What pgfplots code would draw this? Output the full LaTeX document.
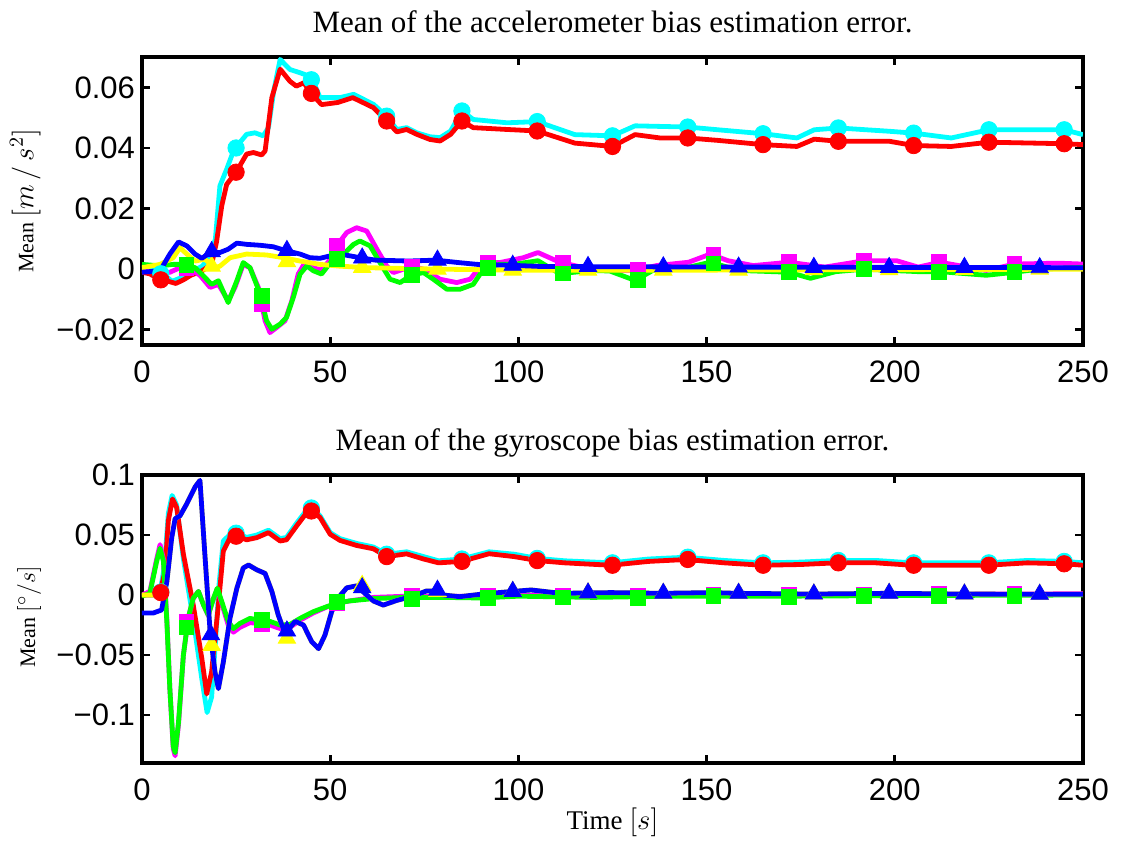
\documentclass[border=0pt]{standalone}
\usepackage{pgfplots}
\pgfplotsset{compat=1.18}
\usepackage{fontspec}
\setmainfont{Liberation Serif}
\setsansfont{Liberation Sans}
\definecolor{cC}{RGB}{0,255,255}
\definecolor{cR}{RGB}{255,0,0}
\definecolor{cM}{RGB}{255,0,255}
\definecolor{cG}{RGB}{0,255,0}
\definecolor{cY}{RGB}{255,255,0}
\definecolor{cB}{RGB}{0,0,255}
\pgfplotsset{
  ln/.style={line width=2.4pt, mark=none, line join=round},
  cm/.style={only marks, mark=*, mark size=4.1pt},
  sm/.style={only marks, mark=square*, mark size=3.7pt},
  tm/.style={only marks, mark=triangle*, mark size=5pt},
  base/.style={
    scale only axis, width=470.5pt, height=144pt,
    xmin=0, xmax=250,
    xtick={0,50,100,150,200,250},
    xticklabels={0,50,100,150,200,250},
    scaled y ticks=false,
    tick align=inside, tick pos=both,
    major tick length=4pt,
    axis line style={line width=1.6pt},
    every tick/.style={black, line width=1.4pt},
    tick label style={font=\fontsize{15.5}{18}\selectfont\sffamily},
    xticklabel style={yshift=-4.5pt},
    title style={at={(axis description cs:0.5,1)}, anchor=base, yshift=6.5pt, font=\fontsize{15.5}{18}\selectfont},
    ylabel style={font=\fontsize{11}{13}\selectfont},
    xlabel style={font=\fontsize{13.5}{16}\selectfont},
    clip=true,
  },
}
\begin{document}
\begin{tikzpicture}
\useasboundingbox (-71pt,-248pt) rectangle (489.5pt,172.5pt);
% ---------------- top panel ----------------
\begin{axis}[base,
  ymin=-0.025, ymax=0.07,
  ytick={-0.02,0,0.02,0.04,0.06},
  yticklabels={−0.02,0,0.02,0.04,0.06},
  title={Mean of the accelerometer bias estimation error.},
  ylabel={Mean {\fontsize{14.5}{16}\selectfont$[m\,/\,s^2]$}},
  ylabel style={at={(axis description cs:-0.124,0.5)}, anchor=center},
]
% cyan
\addplot[ln, cC] table {
0 0.0005
3 0
6 -0.002
8 -0.004
10 -0.003
13 -0.001
16 0.001
18 0.004
19.5 0.01
20.7 0.0275
22.5 0.033
24.3 0.039
26 0.0418
27.8 0.0445
30 0.045
32.2 0.044
33.6 0.0467
35 0.0588
36.7 0.0692
39.3 0.0659
42 0.0648
43.8 0.064
45.5 0.062
47.3 0.0566
52.6 0.0566
56.2 0.0577
61.5 0.0544
65 0.0505
67.7 0.0461
70.3 0.0467
73 0.045
76.5 0.0437
79.2 0.0434
82 0.0456
85 0.0522
88 0.0494
97 0.0483
105 0.0487
115 0.0444
125 0.044
131 0.0473
145 0.0469
153 0.046
165 0.0447
174 0.0433
178.6 0.046
185 0.0466
198.6 0.0455
205 0.0449
215 0.0433
225 0.046
245 0.046
250 0.0444
};
\addplot[cm, cC] table {
5 -0.0015
25 0.040
45 0.0625
65 0.0505
85 0.0522
105 0.0487
125 0.044
145 0.0469
165 0.0447
185 0.0466
205 0.0449
225 0.046
245 0.046
};
% red
\addplot[ln, cR] table {
0 -0.001
2 -0.0015
5 -0.0035
7 -0.004
9 -0.0047
11 -0.0035
13 -0.002
16 -0.0005
18.5 0.0016
19.8 0.009
21.2 0.021
22.5 0.028
25 0.032
27.8 0.038
29.6 0.0385
31.8 0.0377
32.7 0.039
34.5 0.0566
36.7 0.066
39.3 0.062
41 0.0604
43 0.0615
45 0.058
47.7 0.0543
52 0.055
56 0.0566
61.5 0.0533
65 0.0489
67.7 0.0453
70.3 0.0461
73 0.0445
76.5 0.0428
79.2 0.0423
82 0.0445
85 0.0489
88 0.0467
97 0.0461
105 0.0456
115 0.0416
125 0.0405
131 0.0444
137.6 0.0433
145 0.0433
153 0.0425
165 0.0411
174 0.0405
178.6 0.0429
185 0.0422
198.6 0.0422
205 0.0408
215 0.0405
225 0.0419
245 0.0414
250 0.0411
};
\addplot[cm, cR] table {
5 -0.0035
25 0.032
45 0.058
65 0.0489
85 0.0489
105 0.0456
125 0.0405
145 0.0433
165 0.0411
185 0.0422
205 0.0408
225 0.0419
245 0.0414
};
% magenta
\addplot[ln, cM] table {
0 -0.0005
4.8 -0.001
7.4 -0.001
10.1 0.0005
12.8 0.0
15.4 -0.002
18.1 -0.006
20.3 -0.005
22.9 -0.0104
24.7 -0.006
26.9 0.0016
28.7 0.0005
30.9 -0.006
32.7 -0.017
34 -0.0209
35.8 -0.0192
38 -0.017
39.8 -0.0104
41.5 -0.0016
43.3 0.0022
45.5 0.0005
47.7 -0.0003
50.4 0.0038
51.7 0.0077
54.4 0.0121
57 0.0137
59.7 0.0126
62.4 0.0066
65 0.0011
66.8 -0.0011
69.4 0
71.2 0.0011
74.8 0
79.2 -0.0033
83.6 -0.0044
87.2 -0.0033
90.7 0.0022
95.1 0.0022
101.3 0.0038
105.2 0.0055
111 0.0023
116.7 0.0007
124.3 -0.0004
131 -0.0004
136.7 0.0012
145.2 0.0023
151 0.005
155.7 0.0028
162.4 0.0012
171.9 0.0023
181.4 0.0007
191.9 0.0028
200.5 0.0028
206.2 0.0007
212 0.0023
224.3 -0.0004
231.9 0.0017
243.3 0.002
250 0.0017
};
\addplot[sm, cM] table {
11.8 0.0003
31.8 -0.0115
51.8 0.0077
71.8 0.0008
91.8 0.0022
111.8 0.002
131.8 -0.0002
151.8 0.0046
171.8 0.0023
191.8 0.0028
211.8 0.0023
231.8 0.0017
};
% green
\addplot[ln, cG] table {
0 0.0016
4.8 0.0011
8.3 0.0016
11.4 0.0016
14.1 0.0005
16.3 -0.0022
18.5 -0.005
20.3 -0.0038
22.9 -0.011
25.2 -0.0038
26.9 0.0022
28.7 0.0005
31.4 -0.0082
33.1 -0.017
34.5 -0.0198
36.7 -0.0181
38.4 -0.0159
40.2 -0.0093
42 -0.0016
43.8 0.0011
45.5 -0.0005
47.7 -0.0016
50.8 0.0033
52.6 0.0038
56.2 0.0082
57.9 0.0093
60.6 0.0077
63.2 0.0022
65.9 -0.0033
68.6 -0.0044
71.5 -0.002
74.8 -0.0011
77.4 -0.0033
81 -0.0066
84.5 -0.0066
88 -0.005
90.7 0
95 0.0016
98.7 0.0016
105.2 0.0028
111 -0.0015
119.5 -0.0004
124.3 -0.0006
131 -0.0037
135.7 -0.0004
143.3 0.0001
151 0.0023
158.6 -0.0004
171.9 -0.001
177.6 -0.003
184.3 -0.0008
191.9 0
206.2 -0.0008
212 -0.0008
224.3 -0.002
231.9 -0.001
238 0
250 0.0006
};
\addplot[sm, cG] table {
11.8 0.0013
31.8 -0.0088
51.8 0.0033
71.8 -0.0019
91.8 0.0004
111.8 -0.0014
131.8 -0.0034
151.8 0.0019
171.8 -0.001
191.8 0
211.8 -0.0008
231.8 -0.001
};
% yellow
\addplot[ln, cY] table {
0 0.0005
4.8 0.0016
8.3 0.0038
10.1 0.0071
11.9 0.005
14.1 0.0027
16.7 0.0033
19.4 0.0005
20.7 0.001
23.4 0.0038
27.8 0.005
33.1 0.0047
37.6 0.0038
42 0.0027
47.3 0.0016
52.6 0.001
60 0.0005
80 0.0
100 -0.0003
150 -0.0003
250 0.0
};
\addplot[tm, cY] table {
18.5 0.001
38.5 0.0025
58.5 0.0006
78.5 0.0
98.5 -0.0003
118.5 -0.0003
138.5 -0.0003
158.5 -0.0003
178.5 -0.0002
198.5 -0.0002
218.5 -0.0001
238.5 0
};
% blue
\addplot[ln, cB] table {
0 -0.001
4.8 -0.0005
7.4 0.005
9.7 0.009
11.9 0.0077
14.1 0.005
15.9 0.0036
18.1 0.0055
20.7 0.0055
22.9 0.0066
25.2 0.0086
27.8 0.0082
31.4 0.0079
34.9 0.0074
38 0.0062
42 0.005
44.6 0.0038
47.3 0.0036
50 0.0044
52.6 0.005
58.4 0.0037
62 0.003
71 0.0027
78 0.003
84 0.0022
89 0.0016
98 0.0013
106 0.0009
130 0.0008
160 0.0007
200 0.0006
250 0.0005
};
\addplot[tm, cB] table {
18.5 0.0058
38.5 0.0062
58.5 0.0037
78.5 0.003
98.5 0.0013
118.5 0.0009
138.5 0.0008
158.5 0.0007
178.5 0.0006
198.5 0.0006
218.5 0.0006
238.5 0.0005
};
\end{axis}
% ---------------- bottom panel ----------------
\begin{axis}[base,
  at={(0pt,-209pt)}, anchor=south west,
  ymin=-0.14, ymax=0.1,
  ytick={-0.1,-0.05,0,0.05,0.1},
  yticklabels={−0.1,−0.05,0,0.05,0.1},
  title={Mean of the gyroscope bias estimation error.},
  ylabel={Mean {\fontsize{13}{15}\selectfont$[^\circ/s]$}},
  ylabel style={at={(axis description cs:-0.120,0.507)}, anchor=center},
  xlabel={Time $[s]$},
  xlabel style={at={(axis description cs:0.5,0)}, anchor=center, yshift=-29.5pt},
]
% cyan
\addplot[ln, cC] table {
0 0
3 0
4.8 0.002
6 0.025
7 0.068
8 0.083
9.2 0.075
11 0.03
13.6 -0.02
15.9 -0.07
17.3 -0.098
18.5 -0.085
19.5 -0.04
20.5 0.01
21.6 0.045
23.4 0.0505
25.2 0.0515
27.8 0.048
30.5 0.05
33.6 0.054
36.7 0.047
38.4 0.048
41.1 0.06
43.8 0.071
45.1 0.0725
47.3 0.066
50 0.052
52.6 0.047
57 0.043
61.5 0.040
65 0.034
70.3 0.036
74.8 0.032
78.8 0.0285
84.9 0.030
92.2 0.036
98.9 0.034
105 0.0305
112.3 0.0285
124.6 0.0268
134.6 0.030
144.6 0.0315
154.7 0.0288
164.8 0.0268
174.9 0.0274
184.4 0.0288
195 0.0288
204.5 0.0268
212.8 0.0268
224.6 0.0268
235.2 0.0288
245.3 0.028
250 0.0268
};
\addplot[cm, cC] table {
5 0.0025
25 0.0515
45 0.0725
65 0.034
85 0.030
105 0.0305
125 0.0268
145 0.0315
165 0.0268
185 0.0288
205 0.0268
225 0.0268
245 0.028
};
% red
\addplot[ln, cR] table {
0 0
3 0
4.8 0.0015
6.1 0.02
7 0.062
8.1 0.08
9.2 0.073
11 0.034
13.6 -0.008
15.9 -0.053
17.2 -0.0825
18.5 -0.064
20.3 -0.008
21.6 0.0366
23.4 0.0478
25.2 0.049
27.8 0.046
30.5 0.0478
33.6 0.052
36.7 0.045
38.4 0.046
41.1 0.0576
43.8 0.0688
45.1 0.07
47.3 0.0646
50 0.0506
52.6 0.0455
57 0.0413
61.5 0.0385
65 0.032
70.3 0.0343
74.8 0.03
78.8 0.0268
84.9 0.028
92.2 0.0344
98.9 0.032
105 0.0287
112.3 0.0268
124.6 0.0248
134.6 0.028
144.6 0.0296
154.7 0.0268
164.8 0.0248
174.9 0.0254
184.4 0.0268
195 0.0268
204.5 0.0248
212.8 0.0248
224.6 0.0248
235.2 0.0268
245.3 0.026
250 0.0248
};
\addplot[cm, cR] table {
5 0.002
25 0.049
45 0.07
65 0.032
85 0.028
105 0.0287
125 0.0248
145 0.0296
165 0.0248
185 0.0268
205 0.0248
225 0.0248
245 0.026
};
% magenta
\addplot[ln, cM] table {
0 0.0
2.1 0.003
3.9 0.03
4.8 0.042
5.7 0.03
6.6 -0.02
7.4 -0.078
8.3 -0.128
8.8 -0.134
9.7 -0.108
11 -0.05
12.3 -0.019
13.6 -0.003
15 0.003
16.3 -0.008
17.6 -0.017
19 -0.003
20 0.005
21.2 -0.007
22.9 -0.025
24.3 -0.031
26 -0.027
28.7 -0.023
31.4 -0.024
34 -0.025
36.7 -0.028
39.3 -0.027
42 -0.021
45.5 -0.015
49.1 -0.01
51.7 -0.007
55 -0.005
61.5 -0.002
70 -0.001
80 -0.001
90 -0.001
100 0.0
120 -0.001
140 0.0
170 0.0
200 0.0005
250 0.001
};
\addplot[sm, cM] table {
11.8 -0.022
31.8 -0.024
51.8 -0.007
71.8 -0.001
91.8 -0.001
111.8 -0.0005
131.8 -0.0005
151.8 0
171.8 0
191.8 0.0003
211.8 0.0006
231.8 0.0008
};
% green
\addplot[ln, cG] table {
0 -0.001
2.1 0.0015
3.9 0.028
4.8 0.039
5.7 0.028
6.6 -0.022
7.4 -0.078
8.3 -0.126
8.8 -0.1315
9.7 -0.106
11 -0.05
12.3 -0.019
13.6 -0.0027
15 0.003
16.3 -0.008
17.6 -0.0167
19 -0.0027
20 0.0057
21.2 -0.0055
22.9 -0.022
24.3 -0.028
26 -0.0237
28.7 -0.0195
31.4 -0.021
34 -0.022
36.7 -0.025
39.3 -0.0245
42 -0.0195
45.5 -0.0139
49.1 -0.0097
51.7 -0.0069
55 -0.005
61.5 -0.003
70 -0.002
80 -0.002
90 -0.0025
100 -0.001
120 -0.002
140 -0.001
170 -0.001
200 -0.0005
250 0.0
};
\addplot[sm, cG] table {
11.8 -0.027
31.8 -0.021
51.8 -0.006
71.8 -0.0035
91.8 -0.0025
111.8 -0.002
131.8 -0.0025
151.8 -0.001
171.8 -0.0015
191.8 -0.001
211.8 -0.001
231.8 -0.0005
};
% yellow
\addplot[ln, cY] table {
0 0.0
3 0.0
5.2 0.0
6.6 0.011
7.9 0.0478
8.8 0.0636
10.1 0.066
11.9 0.076
14.1 0.09
15.4 0.0955
16.7 0.034
18.1 -0.0307
19.4 -0.0643
20.3 -0.078
21.6 -0.056
23.4 -0.019
25.2 0.0056
26.9 0.0225
28.3 0.025
30.5 0.021
32.7 0.018
34.5 0.003
36.2 -0.0167
38 -0.032
40.7 -0.022
42.9 -0.025
45.1 -0.039
46.9 -0.0447
48.6 -0.0335
50.4 -0.0139
51.7 -0.004
54.4 0.006
57 0.0076
61.5 -0.005
64.1 -0.0084
67.7 -0.0045
72.1 -0.0008
75.6 0.0034
77.9 0.0034
80 0.0
84.4 -0.0014
91 0.001
97.8 0.0028
103.4 0.0042
111.2 0.0014
124.6 0.002
138 0.0014
151.4 0.002
158 0.0014
178.2 0.0008
198.3 0.0014
217.9 0.0008
238 0.0006
250 0.0006
};
\addplot[tm, cY] table {
18.5 -0.042
38.5 -0.036
58.5 0.008
78.5 0.003
98.5 0.003
118.5 0.0017
138.5 0.0014
158.5 0.0014
178.5 0.0008
198.5 0.0014
218.5 0.0008
238.5 0.0006
};
% blue
\addplot[ln, cB] table {
0 -0.015
3 -0.015
5.2 -0.0125
6.6 0.011
7.9 0.0478
8.8 0.0636
10.1 0.066
11.9 0.076
14.1 0.09
15.4 0.0955
16.7 0.034
18.1 -0.0307
19.4 -0.0643
20.3 -0.078
21.6 -0.056
23.4 -0.019
25.2 0.0056
26.9 0.0225
28.3 0.025
30.5 0.021
32.7 0.018
34.5 0.003
36.2 -0.0167
38 -0.032
40.7 -0.022
42.9 -0.025
45.1 -0.039
46.9 -0.0447
48.6 -0.0335
50.4 -0.0139
51.7 -0.004
54.4 0.006
57 0.0076
61.5 -0.005
64.1 -0.0084
67.7 -0.0045
72.1 -0.0008
75.6 0.0034
77.9 0.0034
80 0.0
84.4 -0.0014
91 0.001
97.8 0.0028
103.4 0.0042
111.2 0.0014
124.6 0.002
138 0.0014
151.4 0.002
158 0.0014
178.2 0.0008
198.3 0.0014
217.9 0.0008
238 0.0006
250 0.0006
};
\addplot[tm, cB] table {
18.3 -0.033
38.5 -0.030
58.5 0.006
78.5 0.004
98.5 0.003
118.5 0.0017
138.5 0.0014
158.5 0.0014
178.5 0.0008
198.5 0.0014
218.5 0.0008
238.5 0.0006
};
\end{axis}
\end{tikzpicture}
\end{document}
